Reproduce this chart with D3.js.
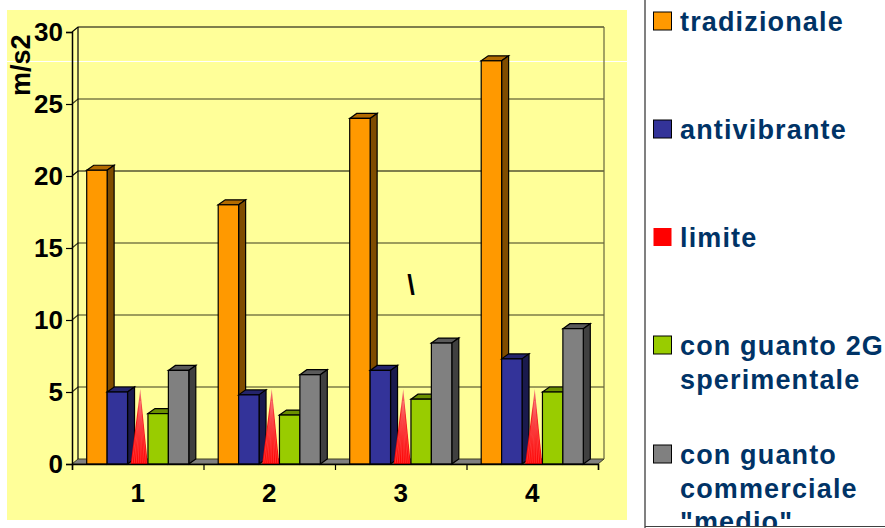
<!DOCTYPE html>
<html>
<head>
    <meta charset="utf-8">
    <title>m/s2</title>
    <style>
        html, body { margin: 0; padding: 0; background: #fff; overflow: hidden; }
        svg { display: block; font-family: "Liberation Sans", Arial, sans-serif; font-weight: bold; }
    </style>
</head>
<body>
    <div id="chart"></div>
    <script src="https://d3js.org/d3.v7.min.js"></script>
    <script>
    // Values
    const categories = ["1", "2", "3", "4"];
    const tradizionale = [20.4, 18.0, 24.0, 28.0];
    const antivibrante = [5.0, 4.8, 6.5, 7.3];
    const limite = [5, 5, 5, 5];
    const guanto2G = [3.5, 3.4, 4.5, 5.0];
    const commerciale = [6.5, 6.2, 8.4, 9.4];
    const yTicks = [0, 5, 10, 15, 20, 25, 30];
    const seriesNames = ["tradizionale", "antivibrante", "limite", "guanto2G", "commerciale"];
    const seriesValues = [tradizionale, antivibrante, limite, guanto2G, commerciale];
    const legendLabels = [
        ["tradizionale"],
        ["antivibrante"],
        ["limite"],
        ["con guanto 2G", "sperimentale"],
        ["con guanto", "commerciale", "\"medio\""]
    ];

    const colors = {
        tradizionale: {front: "#ff9900", top: "#b36b00", side: "#7f4c00"},
        antivibrante: {front: "#333399", top: "#24246b", side: "#1a1a4d"},
        limite: {front: "#ff0000"},
        guanto2G: {front: "#99cc00", top: "#6b8f00", side: "#4d6600"},
        commerciale: {front: "#808080", top: "#5a5a5a", side: "#404040"}
    };

    const width = 885, height = 528;
    const dx = 6, dy = -5; // 3d depth of the walls
    const barDx = 7, barDy = -5;
    const x0 = 72, x1 = 598, yBottom = 464, yTop = 32;

    const svg = d3.select("#chart").append("svg")
        .attr("width", width)
        .attr("height", height);

    // Yellow chart panel, with the thin white seam across it
    svg.append("rect").attr("x", 7).attr("y", 10).attr("width", 620).attr("height", 510).attr("fill", "#ffff99");
    svg.append("line").attr("x1", 7).attr("x2", 627).attr("y1", 61.5).attr("y2", 61.5).attr("stroke", "#fff");

    const x = d3.scaleBand().domain(categories).range([x0, x1]);
    const xSeries = d3.scaleBand().domain(seriesNames).range([0, x.bandwidth()]).paddingOuter(0.72).paddingInner(0);
    const y = d3.scaleLinear().domain([0, 30]).range([yBottom, yTop]);

    // Floor
    svg.append("path")
        .attr("d", `M${x0},${yBottom}L${x0 + dx},${yBottom + dy}L${x1 + dx},${yBottom + dy}L${x1},${yBottom}Z`)
        .attr("fill", "#808080")
        .attr("stroke", "#404020");

    // Walls and grid lines
    svg.append("g").selectAll("path")
        .data(yTicks.slice(1))
        .join("path")
        .attr("d", d => `M${x0},${y(d)}L${x0 + dx},${y(d) + dy}L${x1 + dx},${y(d) + dy}`)
        .attr("fill", "none")
        .attr("stroke", d => d === 30 || d === 20 ? "#000" : "#3c3c1e")
        .attr("stroke-width", 1.2);
    svg.append("line")
        .attr("x1", x0 + dx).attr("x2", x0 + dx).attr("y1", y(30) + dy).attr("y2", yBottom + dy)
        .attr("stroke", "#000").attr("stroke-width", 1.2);
    svg.append("line")
        .attr("x1", x1 + dx).attr("x2", x1 + dx).attr("y1", y(30) + dy).attr("y2", yBottom + dy)
        .attr("stroke", "#66663d").attr("stroke-width", 1.2);

    // Bars, left to right so that each one hides the side of the last
    const gradient = svg.append("defs").append("linearGradient")
        .attr("id", "coneFill").attr("x1", 0).attr("x2", 0).attr("y1", 0).attr("y2", 1);
    gradient.append("stop").attr("offset", 0).attr("stop-color", "#f08080");
    gradient.append("stop").attr("offset", 0.35).attr("stop-color", "#f52020");
    gradient.append("stop").attr("offset", 1).attr("stop-color", "#ff0000");

    categories.forEach((cat, c) => {
        const g = svg.append("g");
        seriesNames.forEach((name, s) => {
            const v = seriesValues[s][c];
            const left = x(cat) + xSeries(name);
            const w = xSeries.bandwidth();
            const top = y(v);
            const col = colors[name];
            if (name === "limite") {
                // Cone: apex above the middle of the base, with faint streaks
                const cx = left + w / 2 + 1.5;
                const ax = cx + 1, ay = top + barDy + 2;
                g.append("path")
                    .attr("d", `M${ax},${ay}L${cx + 8.5},${yBottom}L${cx - 8.5},${yBottom}Z`)
                    .attr("fill", "url(#coneFill)");
                d3.range(-7, 8, 2).forEach(k => {
                    g.append("line")
                        .attr("x1", ax).attr("y1", ay + 12)
                        .attr("x2", cx + k).attr("y2", yBottom - 1)
                        .attr("stroke", "#ff7070").attr("stroke-width", 0.6).attr("opacity", 0.7);
                });
                return;
            }
            g.append("path")
                .attr("d", `M${left},${top}L${left + barDx},${top + barDy}L${left + w + barDx},${top + barDy}L${left + w},${top}Z`)
                .attr("fill", col.top).attr("stroke", "#000").attr("stroke-width", 1.2);
            g.append("path")
                .attr("d", `M${left + w},${top}L${left + w + barDx},${top + barDy}L${left + w + barDx},${yBottom + barDy}L${left + w},${yBottom}Z`)
                .attr("fill", col.side).attr("stroke", "#000").attr("stroke-width", 1.2);
            g.append("rect")
                .attr("x", left).attr("y", top)
                .attr("width", w).attr("height", yBottom - top)
                .attr("fill", col.front).attr("stroke", "#000").attr("stroke-width", 1.2);
        });
    });

    // Axes
    const yAxis = svg.append("g")
        .attr("transform", `translate(${x0},0)`)
        .call(d3.axisLeft(y).tickValues(yTicks).tickSize(6).tickPadding(3));
    const xAxis = svg.append("g")
        .attr("transform", `translate(0,${yBottom})`)
        .call(d3.axisBottom(d3.scalePoint().domain(d3.range(5)).range([x0, x1])).tickFormat("").tickSize(6));
    xAxis.append("g").selectAll("text")
        .data(categories)
        .join("text")
        .attr("x", d => x(d) + x.bandwidth() / 2)
        .attr("y", 38)
        .attr("text-anchor", "middle")
        .attr("fill", "#000")
        .style("font-size", "26px")
        .text(d => d);
    yAxis.selectAll("text").attr("fill", "#000").style("font-size", "26px").attr("dy", "0.32em");
    [yAxis, xAxis].forEach(a => {
        a.selectAll(".tick line").attr("stroke", "#000").attr("stroke-width", 1.2);
        a.select(".domain").attr("stroke", "#000").attr("stroke-width", 1.5);
    });

    // Axis title and the stray backslash
    svg.append("text")
        .attr("transform", "translate(30,96) rotate(-90)")
        .attr("fill", "#000")
        .style("font-size", "27px")
        .text("m/s2");
    svg.append("text")
        .attr("x", 411).attr("y", 294)
        .attr("text-anchor", "middle")
        .attr("fill", "#000")
        .style("font-size", "27px")
        .text("\\");

    // Legend box (only left and bottom edges show)
    const legendClip = svg.append("clipPath").attr("id", "legendClip");
    legendClip.append("rect").attr("x", 645).attr("y", 0).attr("width", 240).attr("height", 526);
    svg.append("line").attr("x1", 645).attr("x2", 645).attr("y1", 0).attr("y2", 528)
        .attr("stroke", "#808080").attr("stroke-width", 2);

    const legendY = [21, 129, 237, 345, 454];
    const legend = svg.append("g").attr("clip-path", "url(#legendClip)");
    seriesNames.forEach((name, i) => {
        const ly = legendY[i];
        legend.append("rect")
            .attr("x", 653.5).attr("y", ly - 9).attr("width", 18).attr("height", 18)
            .attr("fill", colors[name].front)
            .attr("stroke", name === "limite" ? "none" : "#000");
        legendLabels[i].forEach((t, j) => {
            legend.append("text")
                .attr("x", 680).attr("y", ly + 10 + j * 33.5)
                .attr("fill", "#003366")
                .style("font-size", "27px")
                .style("letter-spacing", "1.15px")
                .text(t);
        });
    });
    svg.append("line").attr("x1", 645).attr("x2", 885).attr("y1", 526.5).attr("y2", 526.5)
        .attr("stroke", "#404040").attr("stroke-width", 1);
    </script>
</body>
</html>
